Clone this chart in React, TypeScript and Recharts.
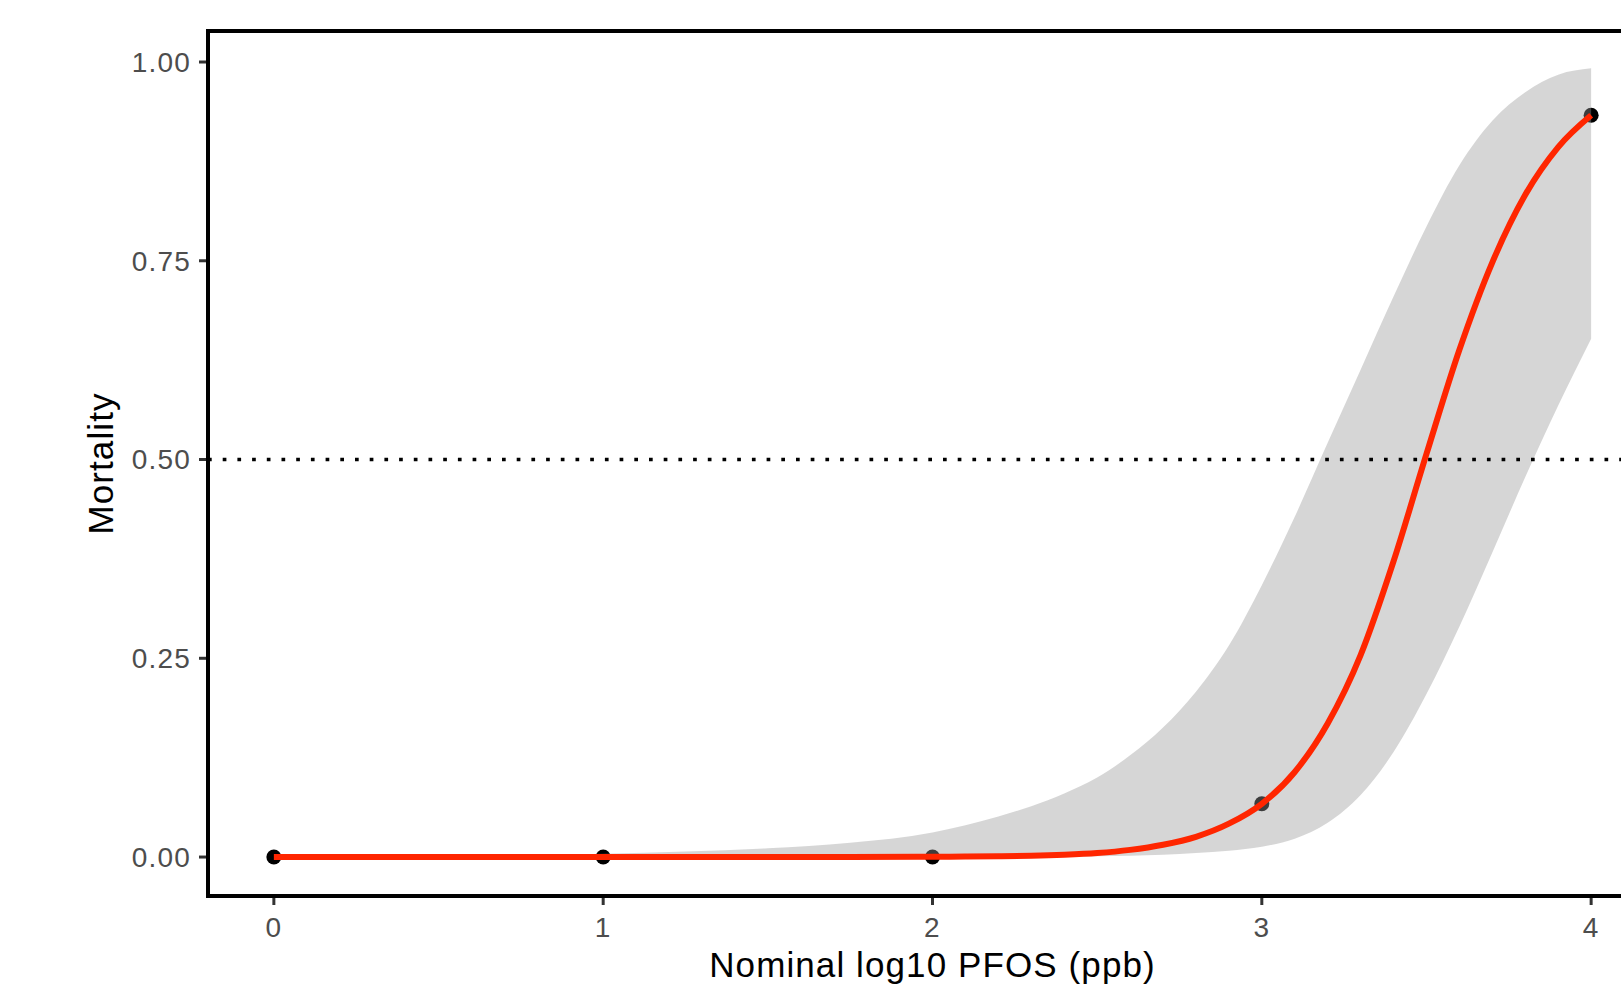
import React from "react";
import {
  ComposedChart,
  Area,
  Line,
  Scatter,
  XAxis,
  YAxis,
  ReferenceLine,
  ReferenceArea,
  Label,
} from "recharts";

// Observed mortality at each nominal log10 concentration
const obsX = [0, 1, 2, 3, 4];
const obsY = [0, 0, 0, 0.067, 0.933];

// Fitted dose-response curve and its confidence band
const curveX = [0, 0.25, 0.5, 0.75, 1, 1.25, 1.5, 1.75, 2, 2.1, 2.2, 2.3, 2.4, 2.5, 2.6, 2.7, 2.8, 2.9, 3.0, 3.1, 3.2, 3.3, 3.4, 3.5, 3.6, 3.7, 3.8, 3.9, 4.0];
const fitY = [0, 0, 0, 0, 0, 0, 0.0001, 0.0002, 0.0004, 0.0006, 0.0009, 0.0015, 0.0028, 0.005, 0.009, 0.0155, 0.0255, 0.042, 0.067, 0.107, 0.168, 0.254, 0.372, 0.507, 0.638, 0.748, 0.833, 0.893, 0.933];
const upperY = [0.0002, 0.0004, 0.0008, 0.0016, 0.004, 0.007, 0.011, 0.018, 0.031, 0.04, 0.051, 0.064, 0.08, 0.1, 0.128, 0.163, 0.208, 0.266, 0.342, 0.428, 0.521, 0.613, 0.705, 0.793, 0.87, 0.926, 0.962, 0.984, 0.992];
const lowerY = [0, 0, 0, 0, 0, 0, 0, 0, 0, 0, 0.0001, 0.0002, 0.0005, 0.001, 0.0017, 0.003, 0.005, 0.008, 0.013, 0.023, 0.043, 0.078, 0.132, 0.205, 0.29, 0.383, 0.478, 0.568, 0.652];

const xTicks = [0, 1, 2, 3, 4];
const yTicks = [0, 0.25, 0.5, 0.75, 1];
const threshold = 0.5;

const X_DOMAIN: [number, number] = [-0.2, 4.2];
const Y_DOMAIN: [number, number] = [-0.049, 1.039];

const curveData = curveX.map((x, i) => ({
  x,
  fit: fitY[i],
  band: [lowerY[i], upperY[i]],
}));
const pointData = obsX.map((x, i) => ({ x, y: obsY[i] }));

const FONT = '"Liberation Sans", Arial, Helvetica, sans-serif';

const YTitle = (props: any) => {
  const vb = props.viewBox || {};
  const cx = (vb.x ?? 0) + 113;
  const cy = (vb.y ?? 0) + (vb.height ?? 0) / 2;
  return (
    <text
      x={cx}
      y={cy}
      transform={`rotate(-90 ${cx} ${cy})`}
      textAnchor="middle"
      fontFamily={FONT}
      fontSize={35}
      letterSpacing={1.1}
      fill="#000"
    >
      Mortality
    </text>
  );
};

const XTitle = (props: any) => {
  const vb = props.viewBox || {};
  const cx = (vb.x ?? 0) + (vb.width ?? 0) / 2;
  const cy = (vb.y ?? 0) + 81;
  return (
    <text x={cx} y={cy} textAnchor="middle" fontFamily={FONT} fontSize={35} letterSpacing={1.1} fill="#000">
      Nominal log10 PFOS (ppb)
    </text>
  );
};

const Dot = (props: any) => {
  if (props.cx == null || props.cy == null) return null;
  return <circle cx={props.cx} cy={props.cy} r={7.5} fill="#000" />;
};

const tickStyle = { fill: "#4D4D4D", fontSize: 28, fontFamily: FONT, letterSpacing: 1.2 };

export default function App() {
  return (
    <div
      style={{
        position: "fixed",
        left: 0,
        top: 0,
        width: 1621,
        height: 995,
        overflow: "hidden",
        background: "#fff",
      }}
    >
      <ComposedChart
        width={1700}
        height={995}
        data={curveData}
        margin={{ top: 31, right: 43, bottom: 0, left: 0 }}
      >
        <XAxis
          dataKey="x"
          type="number"
          domain={X_DOMAIN}
          ticks={xTicks}
          interval={0}
          allowDataOverflow
          height={99}
          axisLine={false}
          tickSize={9}
          tickMargin={12}
          tickLine={{ stroke: "#333333", strokeWidth: 3 }}
          tick={tickStyle}
        >
          <Label content={<XTitle />} />
        </XAxis>
        <YAxis
          type="number"
          domain={Y_DOMAIN}
          ticks={yTicks}
          interval={0}
          allowDataOverflow
          width={208}
          axisLine={false}
          tickSize={9}
          tickMargin={8}
          tickLine={{ stroke: "#333333", strokeWidth: 3 }}
          tick={tickStyle}
          tickFormatter={(v: number) => v.toFixed(2)}
        >
          <Label content={<YTitle />} />
        </YAxis>
        <Scatter
          data={pointData}
          dataKey="y"
          shape={<Dot />}
          isAnimationActive={false}
          zIndex={50}
        />
        <Area
          dataKey="band"
          type="monotone"
          stroke="none"
          fill="#999999"
          fillOpacity={0.4}
          isAnimationActive={false}
          activeDot={false}
          dot={false}
          zIndex={100}
        />
        <ReferenceLine
          y={threshold}
          stroke="#000"
          strokeWidth={3.5}
          strokeDasharray="3.7 11"
          ifOverflow="visible"
          zIndex={300}
        />
        <Line
          dataKey="fit"
          type="monotone"
          stroke="#FF2600"
          strokeWidth={6}
          dot={false}
          activeDot={false}
          isAnimationActive={false}
          zIndex={400}
        />
        <ReferenceArea
          x1={X_DOMAIN[0]}
          x2={X_DOMAIN[1]}
          y1={Y_DOMAIN[0]}
          y2={Y_DOMAIN[1]}
          fill="none"
          fillOpacity={0}
          stroke="#000"
          strokeWidth={4}
          ifOverflow="visible"
          zIndex={1000}
        />
      </ComposedChart>
    </div>
  );
}
